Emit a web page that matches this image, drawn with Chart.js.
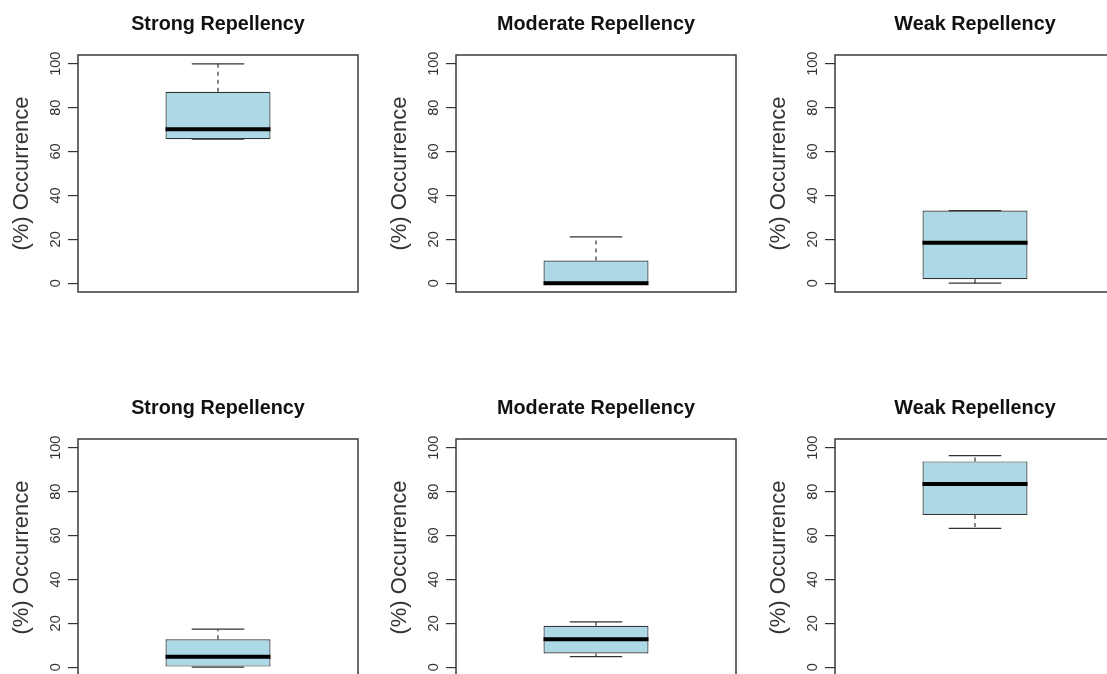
<!DOCTYPE html>
<html>
<head>
<meta charset="utf-8">
<script src="https://cdn.jsdelivr.net/npm/chart.js@4.4.1/dist/chart.umd.min.js"></script>
<style>
  html, body { margin: 0; padding: 0; background: #fff; }
  body { width: 1107px; height: 674px; overflow: hidden; position: relative; }
  canvas { position: absolute; }
</style>
</head>
<body>
<canvas id="p0" width="378" height="337" style="left:0px;top:0px"></canvas>
<canvas id="p1" width="378" height="337" style="left:378px;top:0px"></canvas>
<canvas id="p2" width="378" height="337" style="left:757px;top:0px"></canvas>
<canvas id="p3" width="378" height="337" style="left:0px;top:384px"></canvas>
<canvas id="p4" width="378" height="337" style="left:378px;top:384px"></canvas>
<canvas id="p5" width="378" height="337" style="left:757px;top:384px"></canvas>
<script>
// one box per panel (% occurrence)
const titles = ['Strong Repellency', 'Moderate Repellency', 'Weak Repellency',
                'Strong Repellency', 'Moderate Repellency', 'Weak Repellency'];
const lowWhisker  = [65.6, 0,    0,    0,    4.8,  63.3];
const lowerQuart  = [65.6, 0,    1.8,  0,    6.3,  69.4];
const medians     = [70.2, 0,    18.5, 4.8,  12.8, 83.5];
const upperQuart  = [87.2, 10.3, 33.1, 12.7, 18.9, 93.8];
const highWhisker = [100,  21.1, 33.1, 17.4, 20.7, 96.4];
const yTicks = [0, 20, 40, 60, 80, 100];
const yLabel = '(%) Occurrence';

const FONT = "'Liberation Sans', Arial, sans-serif";
const ink = '#333333';

// whiskers, median, tick labels and the frame round the plot
const boxExtras = {
  id: 'boxExtras',
  afterDatasetsDraw(chart) {
    const i = chart.options.panel;
    const y = chart.scales.y;
    const bar = chart.getDatasetMeta(0).data[0];
    const cx = bar.x, half = bar.width / 2, cap = bar.width / 4;
    const ctx = chart.ctx;
    ctx.save();
    ctx.strokeStyle = ink;
    ctx.lineWidth = 1.2;
    // dashed whiskers
    ctx.setLineDash([4, 4]);
    ctx.beginPath();
    ctx.moveTo(cx, y.getPixelForValue(upperQuart[i]));
    ctx.lineTo(cx, y.getPixelForValue(highWhisker[i]));
    ctx.moveTo(cx, y.getPixelForValue(lowerQuart[i]));
    ctx.lineTo(cx, y.getPixelForValue(lowWhisker[i]));
    ctx.stroke();
    ctx.setLineDash([]);
    // staples
    ctx.beginPath();
    [highWhisker[i], lowWhisker[i]].forEach(v => {
      const py = y.getPixelForValue(v);
      ctx.moveTo(cx - cap, py);
      ctx.lineTo(cx + cap, py);
    });
    ctx.stroke();
    // median
    ctx.strokeStyle = '#000';
    ctx.lineWidth = 4;
    ctx.beginPath();
    const my = y.getPixelForValue(medians[i]);
    ctx.moveTo(cx - half, my);
    ctx.lineTo(cx + half, my);
    ctx.stroke();
    ctx.restore();
  },
  afterDraw(chart) {
    const ctx = chart.ctx;
    const a = chart.chartArea;
    const y = chart.scales.y;
    ctx.save();
    ctx.strokeStyle = '#3a3a3a';
    ctx.lineWidth = 1.5;
    ctx.strokeRect(a.left, a.top, a.right - a.left, a.bottom - a.top);
    // R style tick labels, turned to read upwards
    ctx.fillStyle = ink;
    ctx.font = '14.5px ' + FONT;
    ctx.textAlign = 'center';
    ctx.textBaseline = 'middle';
    y.ticks.forEach(t => {
      ctx.save();
      ctx.translate(a.left - 22, y.getPixelForValue(t.value));
      ctx.rotate(-Math.PI / 2);
      ctx.fillText(String(t.value), 0, 0);
      ctx.restore();
    });
    ctx.restore();
  }
};

for (let i = 0; i < titles.length; i++) {
  new Chart(document.getElementById('p' + i), {
    type: 'bar',
    data: {
      labels: [titles[i]],
      datasets: [{
        data: [[lowerQuart[i], upperQuart[i]]],
        backgroundColor: '#ADD8E6',
        borderColor: ink,
        borderWidth: 1.2,
        borderSkipped: false,
        barPercentage: 0.375,
        categoryPercentage: 1
      }]
    },
    plugins: [boxExtras],
    options: {
      panel: i,
      responsive: false,
      animation: false,
      devicePixelRatio: 1,
      layout: { padding: { left: 0, right: 20, top: 0, bottom: 45 } },
      plugins: {
        legend: { display: false },
        tooltip: { enabled: false },
        title: {
          display: true,
          text: titles[i],
          fullSize: false,
          color: '#111',
          font: { family: FONT, size: 19.8, weight: 'bold', lineHeight: 1 },
          padding: { top: 15, bottom: 20.2 }
        }
      },
      scales: {
        x: { display: false },
        y: {
          min: -4,
          max: 104,
          afterBuildTicks: s => { s.ticks = yTicks.map(v => ({ value: v })); },
          afterFit: s => { s.width = 78; },
          ticks: { display: false },
          border: { display: false },
          grid: { drawOnChartArea: false, drawTicks: true, tickLength: 10, color: ink, lineWidth: 1.2 },
          title: {
            display: true,
            text: yLabel,
            color: ink,
            font: { family: FONT, size: 22, lineHeight: 1 },
            padding: { top: 11, bottom: 0 }
          }
        }
      }
    }
  });
}
</script>
</body>
</html>
